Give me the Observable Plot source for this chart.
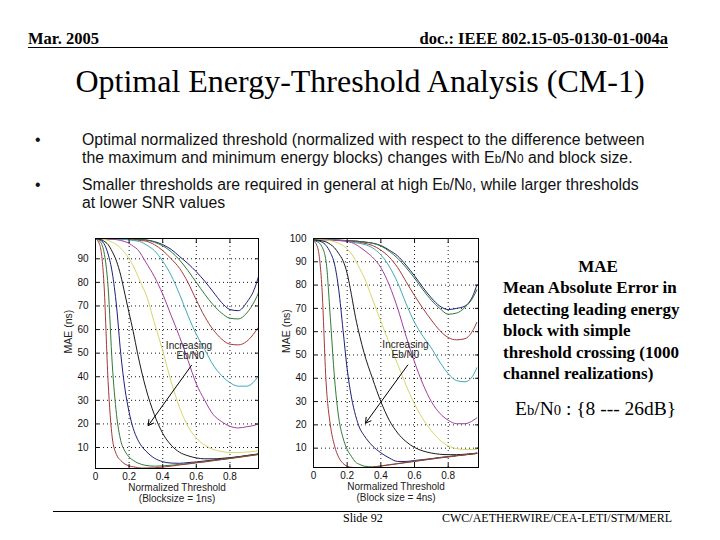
<!DOCTYPE html>
<html>
<head>
<meta charset="utf-8">
<script src="https://cdn.jsdelivr.net/npm/d3@7"></script>
<script src="https://cdn.jsdelivr.net/npm/@observablehq/plot@0.6"></script>
<style>
  html, body { margin: 0; padding: 0; background: #fff; }
  #page { position: relative; width: 720px; height: 540px; overflow: hidden; background: #fff; color: #000; }
  .abs { position: absolute; white-space: nowrap; }
  .hdr { font-family: "Liberation Serif", "DejaVu Serif", serif; font-weight: bold; font-size: 16.5px; line-height: 20px; }
  .title { font-family: "Liberation Serif", serif; font-size: 32px; line-height: 38px; left: 0; width: 720px; text-align: center; }
  .bul { font-family: "Liberation Sans", Arial, sans-serif; font-size: 15.8px; line-height: 18px; color: #111; }
  .sm { font-size: 0.75em; }
  .side { font-family: "Liberation Serif", serif; font-weight: bold; font-size: 17px; line-height: 21.6px; }
  .foot { font-family: "Liberation Serif", serif; font-size: 12px; line-height: 14px; }
  .chart { position: absolute; }
</style>
</head>
<body>
<div id="page">
  <div class="abs hdr" style="left:28px; top:29px;">Mar. 2005</div>
  <div class="abs hdr" style="right:52px; top:29px;">doc.: IEEE 802.15-05-0130-01-004a</div>
  <div class="abs" style="left:28px; top:47px; width:640px; height:0; border-top:1.5px solid #000;"></div>

  <div class="abs title" style="top:62px;">Optimal Energy-Threshold Analysis (CM-1)</div>

  <div class="abs bul" style="left:35px; top:131px;">•</div>
  <div class="abs bul" style="left:82px; top:131px;">Optimal normalized threshold (normalized with respect to the difference between</div>
  <div class="abs bul" style="left:82px; top:149px;">the maximum and minimum energy blocks) changes with E<span class="sm">b</span>/N<span class="sm">0</span> and block size.</div>
  <div class="abs bul" style="left:35px; top:176px;">•</div>
  <div class="abs bul" style="left:82px; top:176px;">Smaller thresholds are required in general at high E<span class="sm">b</span>/N<span class="sm">0</span>, while larger thresholds</div>
  <div class="abs bul" style="left:82px; top:194px;">at lower SNR values</div>

  <div id="chart1" class="chart" style="left:45px; top:226px;"></div>
  <div id="chart2" class="chart" style="left:263px; top:226px;"></div>

  <div class="abs side" style="left:508px; top:256px; width:180px; text-align:center;">MAE</div>
  <div class="abs side" style="left:503px; top:277px;">Mean Absolute Error in<br>detecting leading energy<br>block with simple<br>threshold crossing (1000<br>channel realizations)</div>
  <div class="abs" style="left:515px; top:397px; font-family:'Liberation Serif',serif; font-size:19.5px; line-height:24px;">E<span class="sm">b</span>/N<span class="sm">0</span> : {8 --- 26dB}</div>

  <div class="abs" style="left:53px; top:511px; width:617px; height:0; border-top:1px solid #000;"></div>
  <div class="abs foot" style="left:343px; top:511px;">Slide 92</div>
  <div class="abs foot" style="left:442px; top:511px;">CWC/AETHERWIRE/CEA-LETI/STM/MERL</div>
</div>

<script>
// ---- Data -------------------------------------------------------------
// Normalized threshold sample positions (shared by both plots)
const threshold = [0, 0.025, 0.05, 0.075, 0.1, 0.125, 0.15, 0.175, 0.2, 0.225, 0.25, 0.275, 0.3,
  0.35, 0.4, 0.45, 0.5, 0.55, 0.6, 0.65, 0.7, 0.75, 0.8, 0.85, 0.9, 0.95, 0.97];

const ebn0 = ["8 dB", "10 dB", "12 dB", "14 dB", "16 dB", "18 dB", "20 dB", "22 dB", "24 dB", "26 dB"];
const seriesColors = ["#1e1e78", "#2f7a35", "#a53838", "#3fa9b8", "#a23ea2", "#d6d66a", "#1a1a1a", "#1e1e78", "#2f7a35", "#a53838"];

// MAE (ns), block size = 1 ns
const mae1ns_8dB  = [98.5, 98.5, 98.5, 98.5, 98.5, 98.5, 98.5, 98.4, 98.4, 98.3, 98.2, 98.1, 98, 97.3, 96, 94, 91, 88, 84.5, 80.5, 76, 71.5, 68.5, 68, 71.5, 78, 82.5];
const mae1ns_10dB = [98.5, 98.5, 98.5, 98.5, 98.5, 98.5, 98.5, 98.4, 98.3, 98.3, 98.2, 98.1, 98, 97, 95.5, 93, 89.5, 85, 80, 75, 70.5, 67, 64.8, 64.5, 67, 72.5, 75.5];
const mae1ns_12dB = [98.5, 98.5, 98.5, 98.5, 98.5, 98.5, 98.4, 98.3, 98.2, 98, 97.9, 97.7, 97.5, 96, 93.5, 90, 86, 80, 72.5, 65.5, 60, 56, 53.8, 53.5, 55, 59, 61];
const mae1ns_14dB = [98.5, 98.5, 98.5, 98.5, 98.5, 98.4, 98.3, 98.2, 98, 97.8, 97.5, 97, 96, 93.5, 89, 83, 75, 66, 58, 51.5, 45, 40.5, 37.5, 36, 36, 38.5, 40.5];
const mae1ns_16dB = [98.5, 98.5, 98.5, 98.4, 98.3, 98.1, 97.8, 97.3, 96.5, 95.3, 94, 91.5, 88.5, 82.5, 75, 66, 57, 47, 37, 30, 24, 21, 19, 18.3, 18.8, 19.5, 20];
const mae1ns_18dB = [98.5, 98.4, 98.2, 97.8, 97, 96, 94.5, 92.5, 90, 87, 83, 79, 75, 63, 51, 38, 27, 19, 14, 11, 9.2, 8.3, 7.9, 7.9, 8.1, 8.4, 8.5];
const mae1ns_20dB = [98.5, 98.3, 97.5, 96, 93, 89, 83, 75, 67, 59, 50, 42, 35, 24, 16, 11, 8, 6.5, 5.6, 5.2, 5.2, 5.4, 5.7, 6.1, 6.6, 7.1, 7.3];
const mae1ns_22dB = [98.5, 98, 96.5, 92, 84, 70, 50, 35, 25, 18, 13.5, 10.5, 8.5, 5.5, 4, 3.4, 3.3, 3.6, 3.9, 4.3, 4.7, 5.1, 5.5, 6, 6.5, 7, 7.2];
const mae1ns_24dB = [98.5, 97.5, 93, 78, 45, 24, 13, 8.5, 6, 4.5, 3.5, 2.8, 2.4, 2.1, 2.2, 2.5, 2.8, 3.2, 3.6, 4, 4.5, 4.9, 5.4, 5.9, 6.4, 6.9, 7.1];
const mae1ns_26dB = [98.5, 96, 80, 38, 14, 7, 4.5, 3, 2.2, 1.8, 1.5, 1.3, 1.3, 1.4, 1.7, 2.1, 2.6, 3, 3.5, 3.9, 4.4, 4.9, 5.3, 5.8, 6.3, 6.8, 7];

// MAE (ns), block size = 4 ns
const mae4ns_8dB  = [99.5, 99.5, 99.5, 99.5, 99.4, 99.4, 99.3, 99.2, 99.1, 99, 98.9, 98.7, 98.5, 98, 97, 95, 92.5, 88.5, 84, 79, 74.5, 71, 69.5, 70, 71, 76, 80];
const mae4ns_10dB = [99.5, 99.5, 99.5, 99.5, 99.4, 99.4, 99.3, 99.2, 99.1, 99, 98.9, 98.7, 98.5, 98, 96.8, 94.5, 91.5, 87.5, 83, 78, 73.5, 70, 67.5, 68, 70.5, 75, 78];
const mae4ns_12dB = [99.5, 99.5, 99.5, 99.5, 99.4, 99.3, 99.2, 99.1, 99, 98.8, 98.6, 98.3, 98, 97, 95, 92, 87.5, 81.5, 75.5, 70, 65, 60.5, 57.5, 56.5, 57, 61, 64];
const mae4ns_14dB = [99.5, 99.5, 99.5, 99.5, 99.4, 99.3, 99.2, 99, 98.8, 98.5, 98.2, 97.9, 97.5, 96, 93, 88, 81, 72, 64, 58, 53, 47, 42, 39, 38.5, 41.5, 44.5];
const mae4ns_16dB = [99.5, 99.5, 99.5, 99.4, 99.3, 99.2, 99.1, 99, 98.8, 98.3, 97.5, 96.3, 95, 92, 87.5, 80, 70, 58, 47, 37.5, 30, 25, 22, 20.5, 20.5, 22, 23];
const mae4ns_18dB = [99.5, 99.5, 99.4, 99.3, 99.1, 98.7, 98, 97, 95.5, 93.5, 90.5, 87, 83.5, 74, 64.5, 55, 46, 37, 29, 22.5, 17.5, 13.5, 11, 9.8, 9.4, 9.4, 9.5];
const mae4ns_20dB = [99.5, 99.3, 99, 98.5, 97.5, 96, 93.5, 90.5, 85, 76, 66, 58, 51, 40, 30, 22, 16.5, 12.8, 10.3, 8.8, 7.9, 7.4, 7.2, 7.2, 7.4, 7.7, 7.9];
const mae4ns_22dB = [99.3, 99, 98.5, 97, 94, 89, 78, 61, 44, 32, 24, 18.5, 15.5, 11, 8, 5.8, 4.3, 4.3, 4.7, 5.1, 5.5, 6, 6.4, 6.8, 7.2, 7.6, 7.8];
const mae4ns_24dB = [99, 98.5, 96.5, 90, 66, 40, 23, 14.5, 9.5, 6.5, 4, 3, 2.3, 2, 2.4, 2.9, 3.4, 3.9, 4.4, 4.9, 5.4, 5.9, 6.3, 6.8, 7.2, 7.6, 7.8];
const mae4ns_26dB = [99, 96, 79, 38, 20, 11, 6, 3.5, 2.2, 1.8, 1.6, 1.5, 1.5, 1.8, 2.3, 2.8, 3.3, 3.8, 4.3, 4.8, 5.3, 5.8, 6.2, 6.7, 7.1, 7.5, 7.7];

const yTicks1 = [10, 20, 30, 40, 50, 60, 70, 80, 90];
const yTicks2 = [10, 20, 30, 40, 50, 60, 70, 80, 90, 100];
const xTicks = [0, 0.2, 0.4, 0.6, 0.8];

// Annotation ("Increasing Eb/N0" arrow), in data coordinates
const arrow1 = [{x1: 0.571, y1: 44.8, x2: 0.314, y2: 19.3}];
const arrow2 = [{x1: 0.56, y1: 45.7, x2: 0.309, y2: 20.7}];
const label1 = [{x: 0.556, y: 53.2, t: "Increasing"}, {x: 0.565, y: 49.0, t: "Eb/N0"}];
const label2 = [{x: 0.546, y: 54.3, t: "Increasing"}, {x: 0.546, y: 50.0, t: "Eb/N0"}];

// ---- Build tidy tables ----------------------------------------------------
function tidy(seriesList) {
  const rows = [];
  seriesList.forEach((vals, i) => {
    vals.forEach((v, j) => rows.push({series: ebn0[i], idx: i, x: threshold[j], y: v}));
  });
  return rows;
}
const data1 = tidy([mae1ns_8dB, mae1ns_10dB, mae1ns_12dB, mae1ns_14dB, mae1ns_16dB, mae1ns_18dB, mae1ns_20dB, mae1ns_22dB, mae1ns_24dB, mae1ns_26dB]);
const data2 = tidy([mae4ns_8dB, mae4ns_10dB, mae4ns_12dB, mae4ns_14dB, mae4ns_16dB, mae4ns_18dB, mae4ns_20dB, mae4ns_22dB, mae4ns_24dB, mae4ns_26dB]);

const FONT = "Liberation Sans, Arial, sans-serif";

function makeChart(data, opts) {
  const {xDomain, yDomain, yTicks, arrow, labels, xLabel, frameW, frameH} = opts;
  const mL = 50, mT = 12, mR = 10, mB = 44;
  return Plot.plot({
    width: mL + frameW + mR,
    height: mT + frameH + mB,
    marginLeft: mL, marginTop: mT, marginRight: mR, marginBottom: mB,
    style: {fontFamily: FONT, fontSize: "10px", background: "transparent", color: "#111"},
    x: {domain: xDomain},
    y: {domain: yDomain},
    color: {domain: ebn0, range: seriesColors},
    marks: [
      Plot.gridX(xTicks.filter(d => d > 0), {stroke: "#000", strokeOpacity: 0.9, strokeDasharray: "1,3", strokeWidth: 1}),
      Plot.gridY(yTicks.filter(d => d < yDomain[1]), {stroke: "#000", strokeOpacity: 0.9, strokeDasharray: "1,3", strokeWidth: 1}),
      Plot.line(data, {x: "x", y: "y", z: "series", stroke: "series", strokeWidth: 1, curve: "monotone-x", clip: true}),
      Plot.arrow(arrow, {x1: "x1", y1: "y1", x2: "x2", y2: "y2", stroke: "#000", strokeWidth: 1, headLength: 9}),
      Plot.text(labels, {x: "x", y: "y", text: "t", fontSize: 10, fill: "#222"}),
      Plot.frame({stroke: "#000", strokeWidth: 1}),
      Plot.axisX(xTicks, {anchor: "bottom", tickSize: -4, tickPadding: 8, label: null, tickFormat: d => d === 0 ? "0" : d3.format(".1f")(d), fontSize: 10}),
      Plot.axisX(xTicks, {anchor: "top", tickSize: -4, label: null, tickFormat: () => ""}),
      Plot.axisY(yTicks, {anchor: "left", tickSize: -4, tickPadding: 11, label: null, fontSize: 10}),
      Plot.axisY(yTicks, {anchor: "right", tickSize: -4, label: null, tickFormat: () => ""}),
      Plot.text([xLabel], {frameAnchor: "bottom", dy: 15.5, lineAnchor: "top", fontSize: 10, lineHeight: 1.05, text: d => d, fill: "#222"}),
      Plot.text(["MAE (ns)"], {frameAnchor: "left", dx: -27, rotate: -90, fontSize: 10.5, text: d => d, fill: "#222"})
    ]
  });
}

document.getElementById("chart1").appendChild(makeChart(data1, {
  xDomain: [0, 0.97], yDomain: [1.1, 98.6], yTicks: yTicks1,
  arrow: arrow1, labels: label1, xLabel: "Normalized Threshold\n(Blocksize = 1ns)", frameW: 163, frameH: 230
}));
document.getElementById("chart2").appendChild(makeChart(data2, {
  xDomain: [0, 0.98], yDomain: [1.7, 100], yTicks: yTicks2,
  arrow: arrow2, labels: label2, xLabel: "Normalized Threshold\n(Block size = 4ns)", frameW: 165, frameH: 229
}));
</script>
</body>
</html>
